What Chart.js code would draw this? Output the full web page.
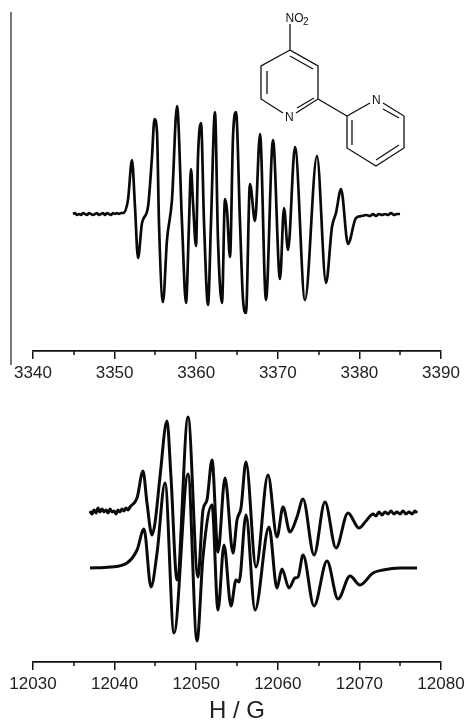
<!DOCTYPE html>
<html><head><meta charset="utf-8">
<script src="https://cdn.jsdelivr.net/npm/chart.js@4/dist/chart.umd.min.js"></script>
<style>
html,body{margin:0;padding:0;background:#fff;width:466px;height:720px;overflow:hidden}
canvas,svg,#rule{position:absolute;left:0}
#rule{left:10px;top:12px;width:2px;height:353px;background:#777}
</style></head><body>
<canvas id="top" width="466" height="385" style="top:0;width:466px;height:385px"></canvas>
<canvas id="bottom" width="466" height="335" style="top:385px;width:466px;height:335px"></canvas>
<div id="rule"></div>
<svg width="466" height="180" style="top:0" font-family="Liberation Sans, Arial, sans-serif" fill="#111">
<g stroke="#111" stroke-width="1.3" fill="none">
<path d="M290 24V50L318 66V99L296 113M283 113L261 99V66L290 50M318 99L347 116L370 103M383 103L404 116V148L376 166L347 148V116"/>
<path d="M290 56L313 69M267 71V94M314 98L297 108M352 120V145M376 160L399 145M383 109L399 118"/>
</g>
<text x="285.5" y="22" font-size="12">NO</text><text x="303" y="25" font-size="10">2</text>
<text x="285" y="121" font-size="12">N</text><text x="372" y="104" font-size="12">N</text>
</svg>
<script>
const topField=[3344.9,3345.15,3345.39,3345.64,3345.88,3346.13,3346.37,3346.62,3346.86,3347.11,3347.35,3347.6,3347.84,3348.09,3348.33,3348.58,3348.82,3349.07,3349.31,3349.56,3349.8,3350.05,3350.29,3350.54,3350.78,3351.03,3351.64,3352.13,3352.5,3352.87,3353.36,3354.09,3354.58,3354.89,3355.2,3355.44,3355.93,3356.42,3357.03,3357.65,3358.26,3358.75,3359.12,3359.36,3359.61,3359.98,3360.22,3360.59,3360.96,3361.45,3361.81,3362.3,3362.67,3363.16,3363.53,3363.77,3364.14,3364.51,3364.88,3365.37,3365.74,3366.1,3366.59,3367.21,3367.82,3368.55,3369.41,3370.27,3370.76,3371.25,3372.11,3373.33,3374.8,3375.91,3376.64,3377.13,3377.75,3378.6,3379.58,3380.32,3380.81,3381.3,3381.67,3382.03,3382.4,3382.77,3383.14,3383.5,3383.87,3384.24,3384.6,3384.98];
const topSignal=[0,1,-1,0,-1,1,0,-1,1,0,-1,0,1,-1,0,1,-1,1,0,-1,1,0,1,0,1,1,14,54,7,-44,-9,7,57,95,81,-9,-88,-26,14,108,-9,-89,-9,45,11,-32,57,91,-9,-91,-9,102,-26,-89,15,4,-43,77,102,-9,-86,-99,30,-7,80,-86,74,-65,6,-36,67,-86,58,-69,-13,1,25,-30,-4,-2,-1,-2,0,-2,0,-1,0,-1,1,-1,0,0];
const expField=[12036.99,12037.23,12037.48,12037.72,12037.97,12038.21,12038.46,12038.7,12038.95,12039.19,12039.44,12039.68,12039.93,12040.17,12040.42,12040.66,12040.91,12041.15,12041.4,12041.64,12041.89,12042.75,12043.48,12043.97,12044.58,12044.95,12045.56,12046.42,12046.91,12047.65,12049,12050.22,12050.83,12051.32,12051.94,12052.67,12053.53,12054.51,12055,12055.49,12056.1,12057.33,12058.8,12059.9,12060.64,12061.49,12062.35,12063.09,12064.44,12065.78,12067.13,12068.6,12069.95,12070.81,12071.67,12072.03,12072.4,12072.77,12073.14,12073.5,12073.87,12074.24,12074.6,12074.98,12075.34,12075.71,12076.08,12076.45,12076.81,12077.06];
const expSignal=[57,54,58,55,60,56,59,56,58,55,59,56,57,54,58,56,59,57,60,58,61,70,97,65,33,45,91,147,91,-12,151,-9,58,68,108,16,90,15,48,60,106,1,93,31,61,36,51,69,13,66,20,55,40,47,54,52,56,53,56,54,57,54,56,54,57,54,56,54,57,55];
const simField=[12036.99,12039.44,12041.52,12042.75,12043.6,12044.46,12045.2,12046.18,12047.28,12049,12050.1,12050.83,12051.94,12052.67,12053.41,12054.26,12054.88,12055.25,12056.1,12057.21,12058.92,12059.9,12060.51,12061.37,12062.11,12062.48,12063.09,12064.44,12066.03,12067.38,12068.85,12070.07,12071.67,12072.89,12074.98,12077.06];
const simSignal=[0,1,5,18,39,-19,15,85,-65,94,-73,11,63,-42,23,-38,-12,-14,53,-42,41,-20,-1,-20,-10,-9,13,-38,7,-31,-8,-17,-5,-2,0,0];
const topTicks=[3340,3350,3360,3370,3380,3390];
const bottomTicks=[12030,12040,12050,12060,12070,12080];
const axisTitle='H / G';

const pts=(xs,ys)=>xs.map((x,i)=>({x,y:ys[i]}));
const ds=(xs,ys,w)=>({data:pts(xs,ys),borderColor:'#0a0a0a',borderWidth:w,pointRadius:0,fill:false,cubicInterpolationMode:'monotone',clip:false});
const minor={id:'minor',afterDraw(c){const s=c.scales.x,x=c.ctx;x.save();x.strokeStyle='#111';x.lineWidth=1.5;
 const t=s.options.majors;for(let i=0;i<t.length-1;i++){const p=Math.round(s.getPixelForValue((t[i]+t[i+1])/2));x.beginPath();x.moveTo(p,s.top);x.lineTo(p,s.top+4);x.stroke();}x.restore();}};
function make(id,datasets,ticks,yMin,yMax,axisH,title){
 return new Chart(document.getElementById(id),{type:'line',data:{datasets},plugins:[minor],options:{
  responsive:false,animation:false,events:[],
  layout:{padding:{left:33,right:25,top:0,bottom:0}},
  plugins:{legend:{display:false},tooltip:{enabled:false},title:{display:false}},
  scales:{
   x:{type:'linear',min:ticks[0],max:ticks[ticks.length-1],majors:ticks,
    afterBuildTicks(s){s.ticks=ticks.map(v=>({value:v}));},
    afterFit(s){s.paddingLeft=0;s.paddingRight=0;s.height=axisH;},
    border:{display:true,color:'#111',width:1.8},
    grid:{drawOnChartArea:false,drawTicks:true,tickLength:8,color:'#111',lineWidth:1.5},
    ticks:{autoSkip:false,maxRotation:0,minRotation:0,padding:4,color:'#222',font:{family:'Liberation Sans',size:17},callback:v=>String(v)},
    title:{display:!!title,text:title||'',color:'#222',font:{family:'Liberation Sans',size:24,lineHeight:0.7},padding:{top:0,bottom:0}}
   },
   y:{type:'linear',display:false,min:yMin,max:yMax}
  }}});
}
make('top',[ds(topField,topSignal,2.7)],topTicks,-137,214,34,'');
make('bottom',[ds(expField,expSignal,3),ds(simField,simSignal,3)],bottomTicks,-94,183,58,axisTitle);
</script>
</body></html>
